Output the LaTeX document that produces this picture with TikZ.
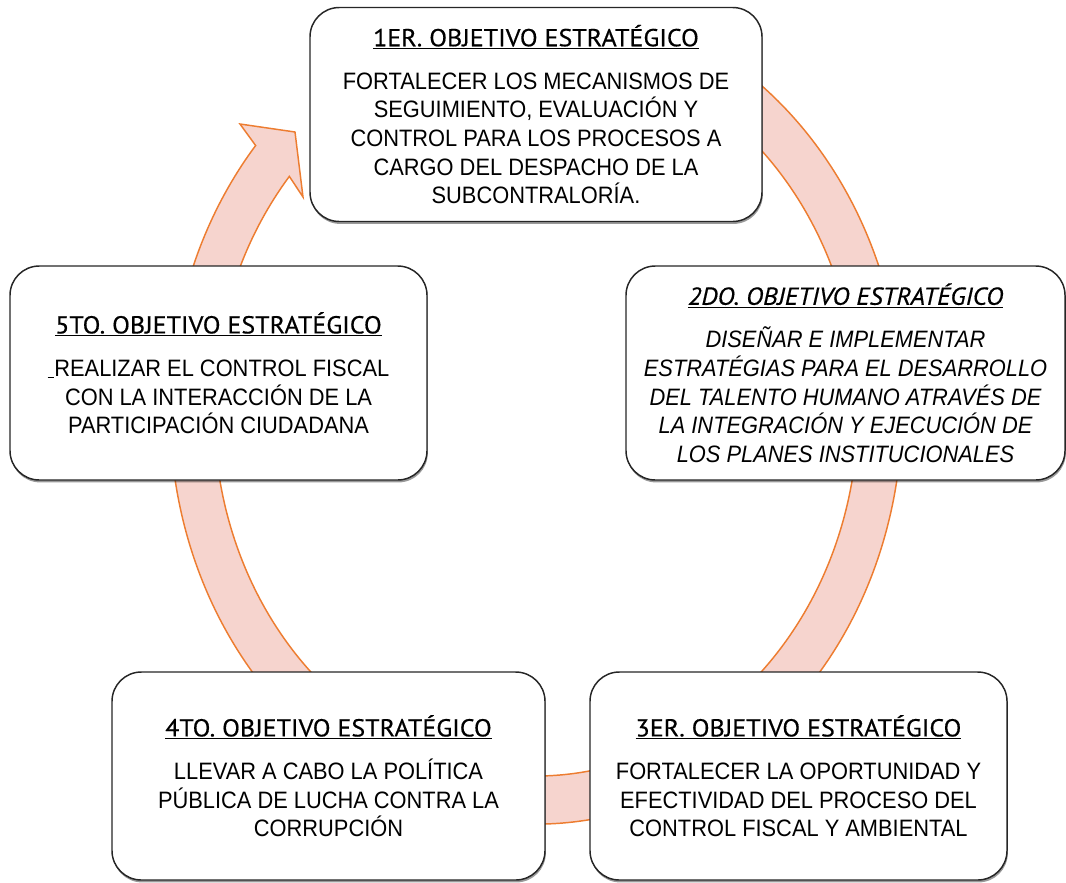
\documentclass[tikz,border=0pt]{standalone}
\usepackage{fontspec}
\setmainfont{Liberation Sans}[FakeStretch=0.92]
\newfontfamily\titlefont{PT Sans}[FakeStretch=1.06, FakeBold=0.5]
\usetikzlibrary{calc,shadows}
\definecolor{bandfill}{HTML}{F6D4CE}
\definecolor{bandline}{HTML}{ED7D31}
\definecolor{boxline}{HTML}{262626}
\newcommand{\ttl}[1]{{\titlefont\fontsize{18.4pt}{21.5pt}\selectfont\underline{#1}}}
\newcommand{\ttli}[1]{{\titlefont\itshape\fontsize{18.4pt}{21.5pt}\selectfont\underline{#1}}}
\newcommand{\bodysize}{\fontsize{17.8pt}{21.5pt}\selectfont}
\tikzset{
  objbox/.style={draw=boxline, line width=1.1pt, fill=white, rounded corners=22pt,
    align=center, inner sep=0pt, font=\bodysize,
    drop shadow={shadow xshift=0.6pt, shadow yshift=-1.8pt, opacity=0.4, fill=black}},
  band/.style={fill=bandfill, draw=bandline, line width=1.1pt, line join=miter}
}
\begin{document}
\begin{tikzpicture}[x=0.75pt,y=0.75pt]
\useasboundingbox (0,0) rectangle (1066,-882);
\coordinate (C) at (536,-411);
\coordinate (hw1) at (240,-124);
\coordinate (htip) at (295,-132);
\coordinate (hw2) at (303,-197);
% circular arrow
\draw[band] ($(C)+(75:274.5pt and 309.75pt)$)
  arc[start angle=75, end angle=-220, x radius=274.5pt, y radius=309.75pt]
  -- (hw1) -- (htip) -- (hw2)
  -- ($(C)+(-220:241.5pt and 273.75pt)$)
  arc[start angle=-220, end angle=75, x radius=241.5pt, y radius=273.75pt]
  -- cycle;
% boxes
\node[objbox, minimum width=339pt, minimum height=160.5pt] (b1) at (536,-114.5)
  {\ttl{1ER. OBJETIVO ESTRATÉGICO}\\[10.7pt]
   FORTALECER LOS MECANISMOS DE\\
   SEGUIMIENTO, EVALUACIÓN Y\\
   CONTROL PARA LOS PROCESOS A\\
   CARGO DEL DESPACHO DE LA\\
   SUBCONTRALORÍA.};
\node[objbox, minimum width=329.25pt, minimum height=160.5pt] (b2) at (845.5,-373)
  {\ttli{2DO. OBJETIVO ESTRATÉGICO}\\[10.7pt]
   \itshape DISEÑAR E IMPLEMENTAR\\
   \itshape ESTRATÉGIAS PARA EL DESARROLLO\\
   \itshape DEL TALENTO HUMANO ATRAVÉS DE\\
   \itshape LA INTEGRACIÓN Y EJECUCIÓN DE\\
   \itshape LOS PLANES INSTITUCIONALES};
\node[objbox, minimum width=312.75pt, minimum height=156pt] (b3) at (798.5,-776)
  {\ttl{3ER. OBJETIVO ESTRATÉGICO}\\[10.7pt]
   FORTALECER LA OPORTUNIDAD Y\\
   EFECTIVIDAD DEL PROCESO DEL\\
   CONTROL FISCAL Y AMBIENTAL};
\node[objbox, minimum width=324.75pt, minimum height=156pt] (b4) at (328.5,-776)
  {\ttl{4TO. OBJETIVO ESTRATÉGICO}\\[10.7pt]
   LLEVAR A CABO LA POLÍTICA\\
   PÚBLICA DE LUCHA CONTRA LA\\
   CORRUPCIÓN};
\node[objbox, minimum width=312.75pt, minimum height=160.5pt] (b5) at (218.5,-373)
  {\ttl{5TO. OBJETIVO ESTRATÉGICO}\\[10.7pt]
   \rule[-1pt]{5pt}{0.75pt}REALIZAR EL CONTROL FISCAL\\
   CON LA INTERACCIÓN DE LA\\
   PARTICIPACIÓN CIUDADANA};
\end{tikzpicture}
\end{document}
